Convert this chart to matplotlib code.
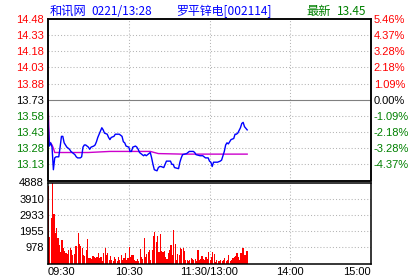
import matplotlib
matplotlib.use("Agg")
import matplotlib.pyplot as plt

# ---- data ------------------------------------------------------------
prev_close = 13.73

# price line: minute index from 09:30 (lunch break removed) and price
price_min = [0, 1, 2, 3, 4, 5, 6, 8, 9, 10, 11, 12, 13, 14, 16, 17, 19, 20, 21, 22,
             24, 25, 26, 27, 28, 29, 30, 31, 32, 34, 35, 36, 37, 39, 40, 41, 42, 44, 45, 46,
             47, 49, 50, 51, 53, 55, 56, 57, 58, 60, 61, 62, 63, 65, 66, 67, 68, 70, 71, 72,
             73, 74, 76, 77, 78, 79, 81, 82, 83, 84, 86, 87, 88, 91, 92, 93, 94, 97, 98, 99,
             100, 103, 105, 108, 109, 110, 113, 115, 117, 119, 120, 121, 122, 123, 125, 126, 128, 129, 130, 131,
             132, 133, 134, 135, 136, 138, 139, 140, 141, 143, 144, 145, 146, 148]
price_val = [13.53, 13.30, 13.33, 13.29, 13.08, 13.19, 13.20, 13.20, 13.29, 13.39, 13.39, 13.33, 13.31, 13.29, 13.27, 13.25, 13.23, 13.22, 13.20, 13.19,
             13.19, 13.20, 13.29, 13.31, 13.31, 13.30, 13.29, 13.27, 13.29, 13.30, 13.31, 13.34, 13.38, 13.44, 13.47, 13.45, 13.42, 13.41, 13.38, 13.36,
             13.38, 13.39, 13.41, 13.41, 13.41, 13.39, 13.34, 13.33, 13.30, 13.29, 13.25, 13.25, 13.29, 13.30, 13.29, 13.27, 13.24, 13.22, 13.21, 13.22,
             13.21, 13.22, 13.24, 13.19, 13.13, 13.08, 13.07, 13.10, 13.11, 13.11, 13.10, 13.13, 13.16, 13.16, 13.13, 13.13, 13.10, 13.09, 13.15, 13.19,
             13.22, 13.23, 13.25, 13.25, 13.24, 13.22, 13.21, 13.21, 13.19, 13.19, 13.16, 13.15, 13.11, 13.15, 13.15, 13.15, 13.16, 13.17, 13.21, 13.25,
             13.31, 13.33, 13.32, 13.34, 13.36, 13.37, 13.41, 13.41, 13.42, 13.47, 13.51, 13.52, 13.48, 13.45]

# average price line
avg_min = [0, 1, 3, 4, 5, 10, 30, 46, 76, 82, 100, 148]
avg_val = [13.73, 13.34, 13.31, 13.28, 13.24, 13.24, 13.24, 13.25, 13.25, 13.23, 13.225, 13.225]

# volume per minute (minutes 0..148)
volume = [4650, 1610, 2770, 4888, 2990, 1850, 2160, 1550, 1140, 690,
          1400, 960, 730, 650, 590, 800, 940, 800, 490, 590,
          1060, 1060, 1850, 1180, 1060, 940, 530, 450, 800, 1450,
          330, 330, 250, 450, 410, 330, 370, 610, 330, 390,
          160, 650, 940, 530, 650, 240, 450, 240, 180, 370,
          290, 160, 370, 240, 490, 240, 330, 650, 240, 330,
          1000, 390, 490, 530, 240, 180, 290, 160, 850, 390,
          290, 1550, 390, 570, 690, 800, 240, 800, 1670, 1930,
          1300, 1630, 720, 1790, 750, 710, 750, 400, 300, 610,
          810, 1120, 500, 2040, 1180, 240, 570, 510, 920, 860,
          920, 750, 240, 200, 140, 240, 330, 260, 200, 290,
          140, 810, 200, 290, 450, 260, 200, 390, 300, 710,
          200, 370, 670, 570, 100, 200, 160, 140, 200, 140,
          200, 310, 160, 240, 510, 140, 200, 310, 370, 450,
          650, 410, 200, 650, 920, 960, 510, 770, 730]

price_ticks = [13.13, 13.28, 13.43, 13.58, 13.73, 13.88, 14.03, 14.18, 14.33, 14.48]
vol_ticks = [978, 1955, 2933, 3910, 4888]
time_pos = [0, 60, 120, 180, 240]
time_labels = ["09:30", "10:30", "11:30/13:00", "14:00", "15:00"]

RED = "#ff0000"
GREEN = "#008000"
BLUE = "#0000ff"
GRID = "#b4b4b4"
TICKFONT = "Liberation Sans"

W, H = 420, 280
fig = plt.figure(figsize=(W / 100, H / 100), dpi=100)
fig.set_facecolor("white")


def box(left, top, right, bottom):
    return [left / W, 1 - bottom / H, (right - left) / W, (bottom - top) / H]


def dotted_grid(ax, ys, xs):
    for y in ys:
        ax.axhline(y, color=GRID, lw=0.75, ls=(0, (1, 2)), zorder=0)
    for x in xs:
        ax.axvline(x, color=GRID, lw=0.75, ls=(0, (1, 2)), zorder=0)


def colour_labels(labels):
    for lab, t in zip(labels, price_ticks):
        lab.set_fontfamily(TICKFONT)
        if t > prev_close + 1e-6:
            lab.set_color(RED)
        elif t < prev_close - 1e-6:
            lab.set_color(GREEN)
        else:
            lab.set_color("black")


# ---- price panel --------------------------------------------------------
ax = fig.add_axes(box(48, 19, 371, 180.5))
lo = prev_close - 0.75
hi = prev_close + 0.75
ax.set_xlim(0, 240)
ax.set_ylim(lo, hi)
dotted_grid(ax, [t for t in price_ticks if t not in (prev_close, 14.48)], [60, 120, 180])
ax.axhline(prev_close, color="#808080", lw=0.8, zorder=0)

ax.plot(avg_min, avg_val, color="#cc00cc", lw=1.0, zorder=2)
ax.plot(price_min, price_val, color=BLUE, lw=1.0, zorder=3)

ax.set_xticks([])
ax.set_yticks(price_ticks)
ax.set_yticklabels(["%.2f" % t for t in price_ticks])
ax.tick_params(axis="y", length=0, pad=3, labelsize=8)
colour_labels(ax.get_yticklabels())

axr = ax.twinx()
axr.set_ylim(lo, hi)
axr.set_yticks(price_ticks)
axr.set_yticklabels(["%.2f%%" % ((t - prev_close) / prev_close * 100) for t in price_ticks])
axr.tick_params(axis="y", length=0, pad=2, labelsize=8)
colour_labels(axr.get_yticklabels())

for a in (ax, axr):
    for sp in a.spines.values():
        sp.set_color("black")
        sp.set_linewidth(1.1)

# ---- volume panel -------------------------------------------------------
av = fig.add_axes(box(48, 182.5, 371, 263.5))
av.set_xlim(0, 240)
av.set_ylim(0, 4888)
dotted_grid(av, vol_ticks[:-1], [60, 120, 180])
av.bar(range(len(volume)), volume, width=0.85, align="edge", color=RED,
       antialiased=False, zorder=2)

av.set_yticks(vol_ticks)
av.set_yticklabels([str(v) for v in vol_ticks])
av.set_xticks(time_pos)
av.set_xticklabels(time_labels)
av.tick_params(length=0, labelsize=8)
av.tick_params(axis="y", pad=3)
av.tick_params(axis="x", pad=2.5)
for lab in av.get_yticklabels() + av.get_xticklabels():
    lab.set_fontfamily(TICKFONT)
xl = av.get_xticklabels()
xl[0].set_horizontalalignment("left")
xl[-1].set_horizontalalignment("right")
for sp in av.spines.values():
    sp.set_color("black")
    sp.set_linewidth(1.1)

# ---- title strip ----------------------------------------------------------
fam = ["Noto Sans CJK SC", "DejaVu Sans"]
ty = 1 - 11.5 / H
fig.text(50 / W, ty, "和讯网", color=BLUE, fontsize=8.8, family=fam, va="center")
fig.text(91 / W, ty, "0221/13:28", color=BLUE, fontsize=8.5, family=fam, va="center")
fig.text(176.5 / W, ty, "罗平锌电[002114]", color=BLUE, fontsize=8.6, family=fam, va="center")
fig.text(306.5 / W, ty, "最新", color=GREEN, fontsize=8.8, family=fam, va="center")
fig.text(336.5 / W, ty, "13.45", color=GREEN, fontsize=8.5, family=fam, va="center")

fig.savefig("out.png", dpi=100, facecolor="white")
